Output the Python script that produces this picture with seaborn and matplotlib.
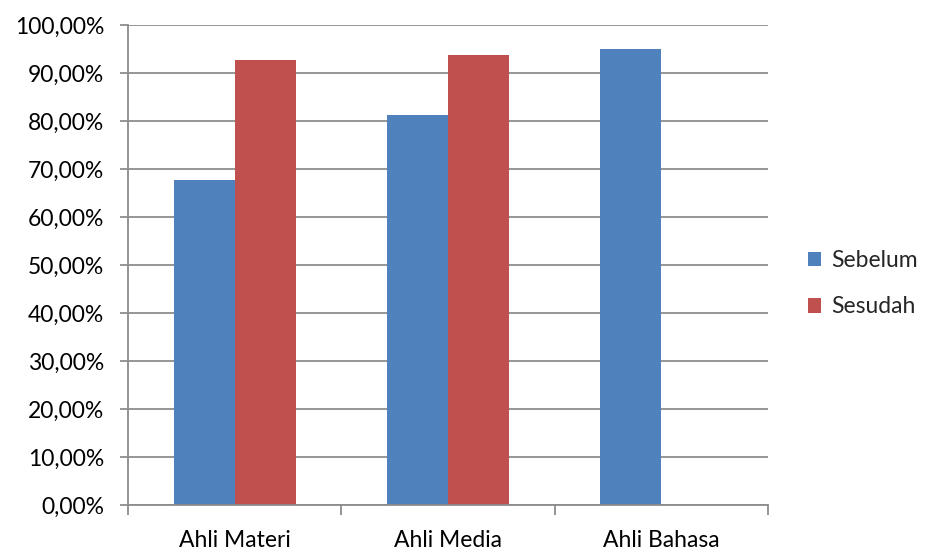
import matplotlib
matplotlib.use("Agg")
import matplotlib.pyplot as plt
from matplotlib.ticker import FuncFormatter, FixedLocator
from matplotlib.patches import Patch
import seaborn as sns
import pandas as pd
import numpy as np

categories = ["Ahli Materi", "Ahli Media", "Ahli Bahasa"]
sebelum = [67.7, 81.2, 95.0]
sesudah = [92.7, 93.7, np.nan]
series_names = ["Sebelum", "Sesudah"]
colors = ["#4F81BD", "#C0504D"]

df = pd.DataFrame({
    "kategori": categories * 2,
    "nilai": sebelum + sesudah,
    "seri": [series_names[0]] * 3 + [series_names[1]] * 3,
})

sns.set_style("white")
plt.rcParams["font.family"] = ["Lato", "DejaVu Sans"]

fig = plt.figure(figsize=(9.25, 5.5), dpi=100)
ax = fig.add_axes([0.1384, 0.0818, 0.6919, 0.8727])

sns.barplot(data=df, x="kategori", y="nilai", hue="seri", palette=colors,
            width=0.572, ax=ax, legend=False, saturation=1, edgecolor="none")

ax.set_xlim(-0.5, 2.5)
ax.set_ylim(0, 100)
ax.set_yticks(np.arange(0, 101, 10))
ax.yaxis.set_major_formatter(FuncFormatter(lambda v, p: f"{v:.2f}".replace(".", ",") + "%"))
ax.grid(axis="y", color="#8C8C8C", linewidth=1.3)
ax.set_axisbelow(True)
ax.set_xlabel("")
ax.set_ylabel("")

for s in ["top", "right"]:
    ax.spines[s].set_visible(False)
for s in ["left", "bottom"]:
    ax.spines[s].set_color("#8C8C8C")
    ax.spines[s].set_linewidth(1.3)

ax.tick_params(axis="y", which="major", length=6, width=1.3, color="#8C8C8C",
               labelsize=16.5, labelcolor="black", pad=11, left=True)
ax.tick_params(axis="x", which="major", length=0, labelsize=16.5, labelcolor="black", pad=18)
ax.xaxis.set_minor_locator(FixedLocator([-0.5, 0.5, 1.5, 2.5]))
ax.tick_params(axis="x", which="minor", length=7, width=1.3, color="#8C8C8C", bottom=True)

handles = [Patch(facecolor=c, edgecolor="none") for c in colors]
fig.legend(handles, series_names, loc="center left", bbox_to_anchor=(0.873, 0.484),
           frameon=False, fontsize=16.5, handlelength=0.6, handleheight=0.6,
           handletextpad=0.45, labelspacing=1.1, borderpad=0, borderaxespad=0)

fig.savefig("out.png", dpi=100)
